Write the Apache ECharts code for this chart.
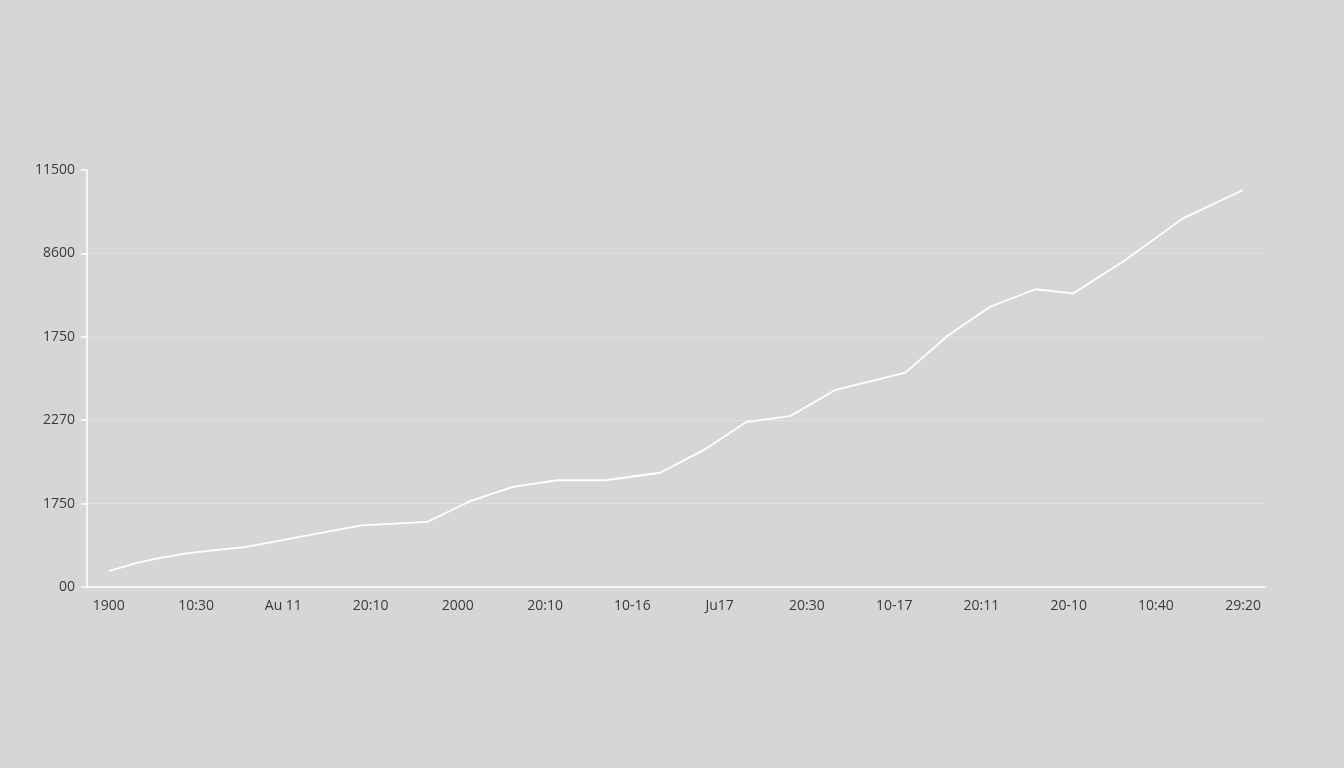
<!DOCTYPE html>
<html>
<head>
<meta charset="utf-8">
<title>line</title>
<script src="https://cdn.jsdelivr.net/npm/echarts@6/dist/echarts.min.js"></script>
<style>
  html, body { margin: 0; padding: 0; background: #d6d6d6; }
  #main { width: 1344px; height: 768px; }
</style>
</head>
<body>
<div id="main"></div>
<script>
// x tick labels (one per tick)
var xLabels = ['1900', '10:30', 'Au 11', '20:10', '2000', '20:10', '10-16',
  'Ju17', '20:30', '10-17', '20:11', '20-10', '10:40', '29:20'];
// y tick labels, bottom to top
var yLabels = ['00', '1750', '2270', '1750', '8600', '11500'];

// line vertices: position in tick units (0 = first label) and value (0..500 scale)
var pointPos = [0, 0.32, 0.59, 0.93, 1.58, 2.08, 2.54, 2.9, 3.65, 4.14, 4.63, 5.14, 5.69,
  6.32, 6.83, 7.31, 7.81, 8.32, 9.13, 9.61, 10.1, 10.62, 11.05, 11.62, 12.31, 13];
var pointVal = [19, 29, 35, 41, 48, 58, 67, 74, 78, 103, 120, 128, 128,
  137, 165, 198, 205, 236, 257, 301, 336, 357, 352, 390, 442, 476];

// the visible axis has a slot between every label so labels sit inset from the ends
var cats = [];
xLabels.forEach(function (l, i) {
  cats.push(l);
  if (i < xLabels.length - 1) cats.push('');
});

var lineData = pointPos.map(function (p, i) { return [p, pointVal[i]]; });

var chart = echarts.init(document.getElementById('main'));
chart.setOption({
  backgroundColor: '#d6d6d6',
  animation: false,
  grid: { left: 87, right: 79, top: 170, bottom: 181 },
  xAxis: [{
    type: 'category',
    data: cats,
    boundaryGap: true,
    axisLine: { lineStyle: { color: '#ffffff', width: 1.5 } },
    axisTick: { interval: 1, alignWithLabel: true, length: 6, lineStyle: { color: '#ffffff', width: 1.5 } },
    axisLabel: { interval: 1, color: '#3a3a3a', fontSize: 14, margin: 12, fontFamily: 'Open Sans' },
    splitLine: { show: false }
  }, {
    type: 'value',
    show: false,
    min: -0.25,
    max: 13.25
  }],
  yAxis: {
    type: 'value',
    min: 0,
    max: 500,
    interval: 100,
    axisLine: { show: true, onZero: false, lineStyle: { color: '#ffffff', width: 1.5 } },
    axisTick: { show: true, length: 6, lineStyle: { color: '#ffffff', width: 1.5 } },
    axisLabel: {
      color: '#3a3a3a', fontSize: 14, margin: 12, fontFamily: 'Open Sans',
      formatter: function (v) { return yLabels[Math.round(v / 100)]; }
    },
    splitLine: { show: true, showMaxLine: false, lineStyle: { color: '#dfdfdf', width: 1 } }
  },
  series: [{
    type: 'line',
    xAxisIndex: 1,
    data: lineData,
    showSymbol: false,
    lineStyle: { color: '#ffffff', width: 1.8 }
  }]
});
</script>
</body>
</html>
